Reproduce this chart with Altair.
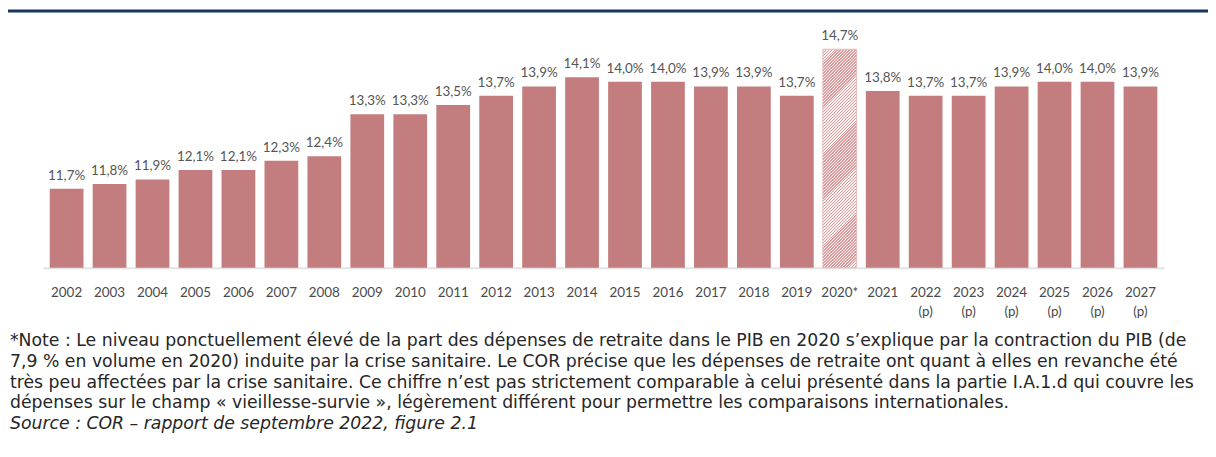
import altair as alt
import pandas as pd

# ---- data ----
years = ["2002", "2003", "2004", "2005", "2006", "2007", "2008", "2009", "2010",
         "2011", "2012", "2013", "2014", "2015", "2016", "2017", "2018", "2019",
         "2020*", "2021", "2022\n(p)", "2023\n(p)", "2024\n(p)", "2025\n(p)",
         "2026\n(p)", "2027\n(p)"]
values = [11.7, 11.8, 11.9, 12.1, 12.1, 12.3, 12.4, 13.3, 13.3, 13.5, 13.7, 13.9,
          14.1, 14.0, 14.0, 13.9, 13.9, 13.7, 14.7, 13.8, 13.7, 13.7, 13.9, 14.0,
          14.0, 13.9]
hatched_year = "2020*"

note_lines = [
    "*Note : Le niveau ponctuellement élevé de la part des dépenses de retraite dans le PIB en 2020 s’explique par la contraction du PIB (de",
    "7,9 % en volume en 2020) induite par la crise sanitaire. Le COR précise que les dépenses de retraite ont quant à elles en revanche été",
    "très peu affectées par la crise sanitaire. Ce chiffre n’est pas strictement comparable à celui présenté dans la partie I.A.1.d qui couvre les",
    "dépenses sur le champ « vieillesse-survie », légèrement différent pour permettre les comparaisons internationales.",
]
source_text = "Source : COR – rapport de septembre 2022, figure 2.1"

# ---- layout / style ----
W, H = 1129, 234
Y_MIN, Y_MAX = 10, 15
BAR = "#c47d7e"
CHART_FONT = "Lato"
NOTE_FONT = "DejaVu Sans"
NOTE_SIZE = 17.4

df = pd.DataFrame({"annee": years, "part": values})
df["etiquette"] = [f"{v:.1f}".replace(".", ",") + "%" for v in values]

# hatch pattern for the 2020 bar built as a striped linear gradient
pad_inner, pad_outer = 0.214, 0.162
step = W / (len(years) - pad_inner + 2 * pad_outer)
bw = step * (1 - pad_inner)
bh = (max(values) - Y_MIN) / (Y_MAX - Y_MIN) * H
s = (bw + bh) / (bw * bw + bh * bh)
length = (bw + bh) / 2 ** 0.5
n = int(length / 2.1)
stops = []
for i in range(n):
    a, m, b = i / n, (i + 0.5) / n, (i + 1) / n
    stops += [alt.GradientStop(offset=a, color="#dc9d9e"),
              alt.GradientStop(offset=m, color="#dc9d9e"),
              alt.GradientStop(offset=m, color="#fbf0f0"),
              alt.GradientStop(offset=b, color="#fbf0f0")]
hatch = alt.LinearGradient(gradient="linear", stops=stops, x1=0, y1=0,
                           x2=s * bw, y2=s * bh)

x_enc = alt.X("annee:N", sort=years, title=None,
              scale=alt.Scale(domain=years, paddingInner=pad_inner,
                              paddingOuter=pad_outer),
              axis=alt.Axis(labelAngle=0, ticks=False, tickSize=0,
                            labelPadding=18, labelFontSize=13.5,
                            labelFont=CHART_FONT, labelColor="#4a4a4a",
                            labelLineHeight=19,
                            labelExpr="split(datum.label, '\\n')",
                            domainColor="#e4e4e4", domainWidth=2))
y_enc = alt.Y("part:Q", axis=None,
              scale=alt.Scale(domain=[Y_MIN, Y_MAX], zero=False, nice=False,
                              clamp=True))

base = alt.Chart(df)

bars = base.mark_bar(color=BAR).encode(x=x_enc, y=y_enc, y2=alt.datum(Y_MIN)).transform_filter(
    alt.datum.annee != hatched_year)
hatched = base.mark_bar(color=hatch, stroke="#e8b9b9", strokeWidth=1).encode(
    x=x_enc, y=y_enc, y2=alt.datum(Y_MIN)).transform_filter(alt.datum.annee == hatched_year)
labels = base.mark_text(font=CHART_FONT, fontSize=13.5, color="#555555",
                        baseline="alphabetic", dy=-9).encode(
    x=x_enc, y=y_enc, text="etiquette:N")

one = alt.Chart(pd.DataFrame({"k": [0]}))
band = one.mark_rect(color="#17355e").encode(
    x=alt.value(-35), x2=alt.value(W + 44), y=alt.value(-26), y2=alt.value(-23))
note = one.mark_text(font=NOTE_FONT, fontSize=NOTE_SIZE, color="#262626", align="left",
                     baseline="alphabetic", lineHeight=20.8).encode(
    x=alt.value(-33), y=alt.value(313), text=alt.value(note_lines))
source = one.mark_text(font=NOTE_FONT, fontSize=NOTE_SIZE, fontStyle="italic", color="#262626",
                       align="left", baseline="alphabetic").encode(
    x=alt.value(-33), y=alt.value(396), text=alt.value(source_text))

chart = alt.layer(bars, hatched, labels, band, note, source).properties(
    width=W, height=H,
    autosize=alt.AutoSizeParams(type="none"),
    padding={"left": 35, "top": 26, "right": 44, "bottom": 181},
    background="white",
).configure_view(stroke=None)

chart.save("out.html", embed_options={"renderer": "svg", "actions": False})
